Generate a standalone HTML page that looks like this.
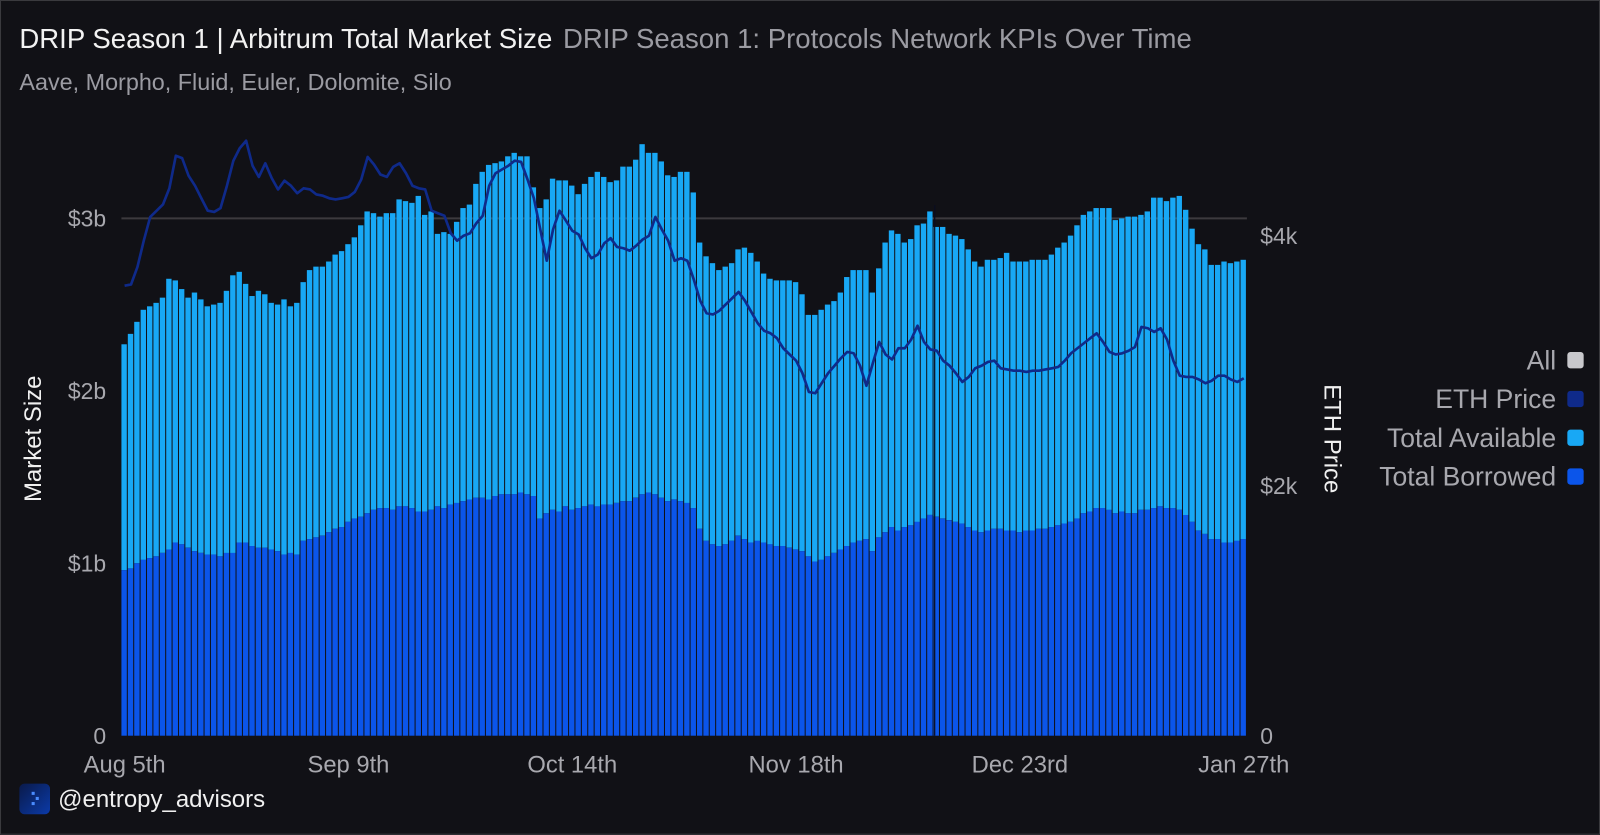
<!DOCTYPE html>
<html><head><meta charset="utf-8">
<style>
html,body{margin:0;padding:0;background:#111116;width:1600px;height:835px;overflow:hidden;}
#root{position:absolute;left:0;top:0;width:1566px;height:816px;background:#111116;border:1px solid #3a3a3e;overflow:hidden;font-family:"Liberation Sans",sans-serif;transform:scale(1.0204);transform-origin:0 0;}
.t{position:absolute;white-space:nowrap;}
</style></head><body>
<div id="root">
<div class="t" style="left:18px;top:22px;font-size:27px;color:#f2f2f2;">DRIP Season 1 | Arbitrum Total Market Size <span style="color:#9b9ba2;margin-left:3px;">DRIP Season 1: Protocols Network KPIs Over Time</span></div>
<div class="t" style="left:18px;top:66px;font-size:22.9px;color:#9b9ba2;">Aave, Morpho, Fluid, Euler, Dolomite, Silo</div>
<svg id="chart" width="1568" height="818" style="position:absolute;left:0;top:0;font-family:'Liberation Sans',sans-serif;"></svg>
<div class="t" style="left:18px;top:767px;font-size:23.5px;color:#f0f0f0;display:flex;align-items:center;">
<span style="display:inline-block;width:30px;height:30px;border-radius:5px;background:linear-gradient(135deg,#0a1a4a,#0b3aa8);margin-right:8px;position:relative;"><span style="position:absolute;left:12px;top:8px;width:3px;height:3px;background:#4a8cff;box-shadow:4px 5px 0 #4a8cff,0 10px 0 #4a8cff;"></span></span>@entropy_advisors</div>
</div>
<script>
const dates=["Aug 5th","Sep 9th","Oct 14th","Nov 18th","Dec 23rd","Jan 27th"];
const dateIdx=[0,35,70,105,140,175];
const leftTicks=[0,1,2,3];
const leftTickLabels=["0","$1b","$2b","$3b"];
const rightTicks=[0,2000,4000];
const rightTickLabels=["0","$2k","$4k"];
const total=[2.27,2.33,2.40,2.47,2.49,2.51,2.54,2.65,2.64,2.59,
2.54,2.57,2.53,2.49,2.50,2.51,2.58,2.67,2.69,2.62,
2.55,2.58,2.56,2.51,2.50,2.53,2.49,2.51,2.63,2.70,
2.72,2.72,2.75,2.79,2.81,2.85,2.89,2.96,3.04,3.03,
3.01,3.03,3.03,3.11,3.10,3.09,3.13,3.02,3.04,2.91,
2.92,2.91,2.98,3.06,3.08,3.20,3.27,3.31,3.32,3.33,
3.36,3.38,3.36,3.36,3.18,3.06,3.11,3.23,3.22,3.22,
3.19,3.14,3.20,3.24,3.27,3.24,3.21,3.22,3.30,3.30,
3.34,3.43,3.38,
3.38,3.33,3.25,3.24,3.27,3.27,3.15,2.86,2.78,2.74,
2.70,2.72,2.74,2.82,2.83,2.80,2.75,2.68,2.65,2.64,
2.64,2.64,2.63,2.56,2.44,2.44,2.47,2.50,2.52,2.57,
2.66,2.70,2.70,2.70,2.57,2.71,2.86,2.93,2.91,2.86,
2.88,2.96,2.97,3.04,2.95,2.95,2.91,2.90,2.88,2.82,
2.75,2.72,2.76,2.76,2.77,2.80,2.75,2.75,2.75,2.76,
2.76,2.76,2.79,2.83,2.86,2.90,2.96,3.02,3.04,3.06,
3.06,3.06,2.99,3.00,3.01,3.01,3.02,3.04,3.12,3.12,
3.10,3.12,3.13,3.05,2.94,2.85,2.82,2.73,2.73,
2.75,2.74,2.75,2.76];
const borrowed=[0.96,0.97,1.00,1.02,1.03,1.04,1.06,1.08,1.12,1.11,
1.09,1.07,1.06,1.05,1.05,1.04,1.06,1.06,1.12,1.12,
1.10,1.09,1.09,1.08,1.07,1.05,1.06,1.05,1.13,1.14,
1.15,1.16,1.18,1.20,1.21,1.24,1.26,1.27,1.29,1.31,
1.32,1.32,1.31,1.33,1.33,1.32,1.30,1.30,1.31,1.33,
1.32,1.34,1.35,1.36,1.37,1.38,1.38,1.37,1.39,1.40,
1.40,1.40,1.41,1.40,1.39,1.26,1.29,1.31,1.30,1.33,
1.31,1.32,1.33,1.34,1.33,1.34,1.34,1.35,1.36,1.36,
1.38,1.40,1.41,1.40,1.38,1.36,1.37,1.36,1.35,1.32,
1.20,1.13,1.11,1.10,1.11,1.13,1.16,1.14,1.12,1.13,
1.12,1.11,1.10,1.10,1.09,1.08,1.07,1.04,1.01,1.02,
1.04,1.06,1.08,1.10,1.12,1.13,1.14,1.07,1.15,1.18,
1.21,1.19,1.21,1.22,1.24,1.26,1.28,1.27,1.26,1.25,
1.24,1.23,1.21,1.19,1.18,1.19,1.20,1.20,1.19,1.19,
1.18,1.19,1.19,1.20,1.20,1.21,1.22,1.23,1.24,1.26,
1.29,1.30,1.32,1.32,1.31,1.29,1.30,1.29,1.29,1.31,
1.31,1.32,1.33,1.32,1.32,1.31,1.28,1.24,1.19,1.17,
1.14,1.14,1.12,1.12,1.13,1.14];
const ethPrice=[3600,3610,3750,3960,4150,4200,4250,4380,4640,4620,
4480,4400,4300,4200,4190,4220,4400,4600,4700,4760,
4560,4470,4580,4460,4370,4440,4400,4340,4380,4370,
4330,4320,4300,4290,4300,4310,4350,4450,4630,4570,
4490,4470,4550,4580,4500,4400,4380,4370,4200,4180,
4160,4020,3960,4000,4020,4100,4160,4400,4500,4530,
4560,4600,4590,4450,4300,4050,3800,4050,4200,4120,
4040,4010,3900,3820,3850,3940,3980,3910,3900,3880,
3920,3970,4000,4150,4050,3960,3800,3820,3800,3650,
3480,3380,3370,3400,3450,3500,3550,3480,3390,3300,
3240,3220,3180,3100,3050,3000,2900,2750,2740,2820,
2900,2960,3020,3070,3060,2960,2800,2980,3150,3050,
3010,3100,3100,3170,3280,3150,3090,3080,3000,2960,
2900,2830,2870,2940,2960,2990,3000,2940,2930,2920,
2920,2910,2920,2920,2930,2940,2950,3000,3060,3100,
3140,3180,3220,3150,3070,3050,3060,3080,3110,3270,
3260,3230,3260,3170,3000,2880,2870,2870,2850,2820,
2840,2880,2880,2850,2830,2860];
const legendLabels=["All","ETH Price","Total Available","Total Borrowed"];
const legendColors=["#c8c8cc","#0f2a8a","#18a8f5","#0b55ea"];

const svg=document.getElementById('chart');
const NS='http://www.w3.org/2000/svg';
function mk(tag,attrs,parent){const e=document.createElementNS(NS,tag);for(const k in attrs)e.setAttribute(k,attrs[k]);(parent||svg).appendChild(e);return e;}
const X0=118,X1=1221,Y0=720;
const N=total.length;
const bw=(X1-X0)/N;
const xc=i=>X0+bw*(i+0.5);
const yL=v=>Y0-v*169;
const yR=v=>Y0-v*0.1225;

let g=mk('line',{x1:X0,x2:X1,y1:yL(3),y2:yL(3),stroke:'#3c3a3e','stroke-width':2});



const barsG=mk('g',{});


for(let i=0;i<N;i++){
  const x=X0+bw*i;
  const a=mk('rect',{x:x.toFixed(2),y:yL(total[i]).toFixed(1),width:(bw-1).toFixed(2),height:(yL(borrowed[i])-yL(total[i])).toFixed(1),fill:'#18a8f5'},barsG);
  
  
  const b=mk('rect',{x:x.toFixed(2),y:yL(borrowed[i]).toFixed(1),width:(bw-1).toFixed(2),height:(Y0-yL(borrowed[i])).toFixed(1),fill:'#0b55ea'},barsG);
  
  
}
const hl=mk('line',{x1:915,x2:915,y1:200,y2:720,stroke:'#0a0d20','stroke-width':1.2});



let d='';
ethPrice.forEach((v,i)=>{d+=(i?'L':'M')+xc(i).toFixed(1)+' '+yR(v).toFixed(1);});
const ln=mk('path',{d:d,fill:'none',stroke:'#0f2a8a','stroke-width':2.6,'stroke-linejoin':'round'});



leftTicks.forEach((v,i)=>{
  const t=mk('text',{x:103,y:yL(v)+8,'text-anchor':'end','font-size':22.5,fill:'#a8a8ae'});
  t.textContent=leftTickLabels[i];
  
  
});
rightTicks.forEach((v,i)=>{
  const t=mk('text',{x:1234,y:yR(v)+8,'font-size':22.5,fill:'#a8a8ae'});
  t.textContent=rightTickLabels[i];
  
  
});
dates.forEach((s,i)=>{
  const t=mk('text',{x:xc(dateIdx[i]),y:756,'text-anchor':'middle','font-size':23.3,fill:'#a8a8ae'});
  t.textContent=s;
  
  
});
let yt=mk('text',{x:0,y:0,transform:'translate(39,429) rotate(-90)','text-anchor':'middle','font-size':23.5,fill:'#f0f0f0'});
yt.textContent='Market Size';


let yt2=mk('text',{x:0,y:0,transform:'translate(1297,429) rotate(90)','text-anchor':'middle','font-size':23.5,fill:'#f0f0f0'});
yt2.textContent='ETH Price';



legendLabels.forEach((s,i)=>{
  const y=352+i*38;
  const t=mk('text',{x:1524,y:y+9,'text-anchor':'end','font-size':26,fill:'#a8a8ae'});
  t.textContent=s;
  
  
  const r=mk('rect',{x:1535,y:y-8,width:16,height:16,rx:3,fill:legendColors[i]});
  
  
});
</script>
</body></html>
